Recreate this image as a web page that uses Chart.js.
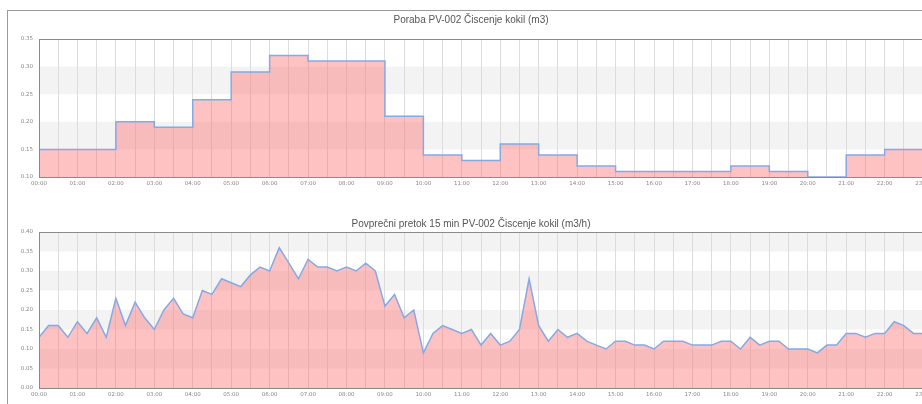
<!DOCTYPE html>
<html>
<head>
<meta charset="utf-8">
<script src="https://cdn.jsdelivr.net/npm/chart.js@4"></script>
<style>
  body { margin: 0; overflow: hidden; background: #fff; width: 922px; height: 404px; }
  #frame { position: absolute; left: 7px; top: 10px; width: 1000px; height: 500px; border: 1px solid #9a9a9a; }
  canvas { position: absolute; left: 8px; }
</style>
</head>
<body>
<div id="frame"></div>
<canvas id="poraba" width="926" height="186" style="top:11px"></canvas>
<canvas id="pretok" width="926" height="211" style="top:197px"></canvas>
<script>
// hour labels on the x axis
const hourLabels = ['00:00','01:00','02:00','03:00','04:00','05:00','06:00','07:00','08:00','09:00','10:00','11:00',
  '12:00','13:00','14:00','15:00','16:00','17:00','18:00','19:00','20:00','21:00','22:00','23:00'];

// Poraba (m3) per hour, 00:00 .. 23:00
const porabaValues = [0.15, 0.15, 0.20, 0.19, 0.24, 0.29, 0.32, 0.31, 0.31, 0.21, 0.14, 0.13,
  0.16, 0.14, 0.12, 0.11, 0.11, 0.11, 0.12, 0.11, 0.10, 0.14, 0.15, 0.15];

// Povprecni pretok 15 min (m3/h), 00:00, 00:15, ... 23:45
const pretokValues = [
  0.13, 0.16, 0.16, 0.13,  0.17, 0.14, 0.18, 0.13,  0.23, 0.16, 0.22, 0.18,
  0.15, 0.20, 0.23, 0.19,  0.18, 0.25, 0.24, 0.28,  0.27, 0.26, 0.29, 0.31,
  0.30, 0.36, 0.32, 0.28,  0.33, 0.31, 0.31, 0.30,  0.31, 0.30, 0.32, 0.30,
  0.21, 0.24, 0.18, 0.20,  0.09, 0.14, 0.16, 0.15,  0.14, 0.15, 0.11, 0.14,
  0.11, 0.12, 0.15, 0.28,  0.16, 0.12, 0.15, 0.13,  0.14, 0.12, 0.11, 0.10,
  0.12, 0.12, 0.11, 0.11,  0.10, 0.12, 0.12, 0.12,  0.11, 0.11, 0.11, 0.12,
  0.12, 0.10, 0.13, 0.11,  0.12, 0.12, 0.10, 0.10,  0.10, 0.09, 0.11, 0.11,
  0.14, 0.14, 0.13, 0.14,  0.14, 0.17, 0.16, 0.14,  0.14, 0.10, 0.11, 0.13
];

// grey bands behind the plot
const porabaBands = [[0.15, 0.20], [0.25, 0.30]];
const pretokBands = [[0.05, 0.10], [0.15, 0.20], [0.25, 0.30], [0.35, 0.40]];

const tickFont = { family: 'DejaVu Sans', size: 5.5 };
const titleFont = { family: 'Liberation Sans, Arial', size: 10, weight: 'normal' };
const fillColor = 'rgba(255, 110, 110, 0.42)';
const lineColor = '#86a9e6';

const bandsPlugin = {
  id: 'bands',
  beforeDraw(chart, args, opts) {
    const { ctx, chartArea, scales } = chart;
    ctx.save();
    ctx.fillStyle = '#f3f3f3';
    (opts.ranges || []).forEach(([lo, hi]) => {
      const y1 = scales.y.getPixelForValue(hi);
      const y2 = scales.y.getPixelForValue(lo);
      ctx.fillRect(chartArea.left, y1, chartArea.right - chartArea.left, y2 - y1);
    });
    ctx.restore();
  },
  afterDraw(chart) {
    const { ctx, chartArea } = chart;
    ctx.save();
    ctx.strokeStyle = '#8a8a8a';
    ctx.lineWidth = 1;
    ctx.strokeRect(chartArea.left + 0.5, chartArea.top + 0.5,
      chartArea.right - chartArea.left, chartArea.bottom - chartArea.top);
    ctx.restore();
  }
};

function makeOptions(title, titlePad, yMin, yMax, bands) {
  return {
    responsive: false,
    animation: false,
    layout: { padding: 0 },
    plugins: {
      legend: { display: false },
      tooltip: { enabled: false },
      title: { display: true, text: title, color: '#555', font: titleFont, padding: titlePad },
      bands: { ranges: bands }
    },
    scales: {
      x: {
        type: 'linear', min: 0, max: 23.25,
        afterFit: (s) => { s.height = 20; },
        // a tick every half hour, labels only on the hour
        afterBuildTicks: (s) => {
          s.ticks = hourLabels.flatMap((_, h) => [{ value: h }, { value: h + 0.5 }])
            .filter((t) => t.value <= s.max);
        },
        grid: { color: '#dcdcdc', drawTicks: false },
        border: { display: false },
        ticks: {
          autoSkip: false, maxRotation: 0, padding: 3,
          color: '#888', font: tickFont,
          callback: (v) => Number.isInteger(v) ? hourLabels[v] : ''
        }
      },
      y: {
        min: yMin, max: yMax,
        afterFit: (s) => { s.width = 31; },
        grid: { display: false, drawTicks: false },
        border: { display: false },
        ticks: {
          stepSize: 0.05, padding: 6, color: '#888', font: tickFont,
          callback: (v) => v.toFixed(2)
        }
      }
    }
  };
}

const porabaPoints = porabaValues.map((v, i) => ({ x: i, y: v }));
porabaPoints.push({ x: porabaValues.length, y: porabaValues[porabaValues.length - 1] });

new Chart(document.getElementById('poraba'), {
  type: 'line',
  data: {
    datasets: [{
      data: porabaPoints,
      stepped: true,
      fill: 'start',
      backgroundColor: fillColor,
      borderColor: lineColor,
      borderWidth: 1.5,
      pointRadius: 0
    }]
  },
  options: makeOptions('Poraba PV-002 Čiscenje kokil (m3)', { top: 3, bottom: 13 }, 0.10, 0.35, porabaBands),
  plugins: [bandsPlugin]
});

new Chart(document.getElementById('pretok'), {
  type: 'line',
  data: {
    datasets: [{
      data: pretokValues.map((v, i) => ({ x: i / 4, y: v })),
      fill: 'origin',
      tension: 0,
      backgroundColor: fillColor,
      borderColor: lineColor,
      borderWidth: 1.5,
      pointRadius: 0
    }]
  },
  options: makeOptions('Povprečni pretok 15 min PV-002 Čiscenje kokil (m3/h)', { top: 21, bottom: 2 }, 0, 0.40, pretokBands),
  plugins: [bandsPlugin]
});
</script>
</body>
</html>
